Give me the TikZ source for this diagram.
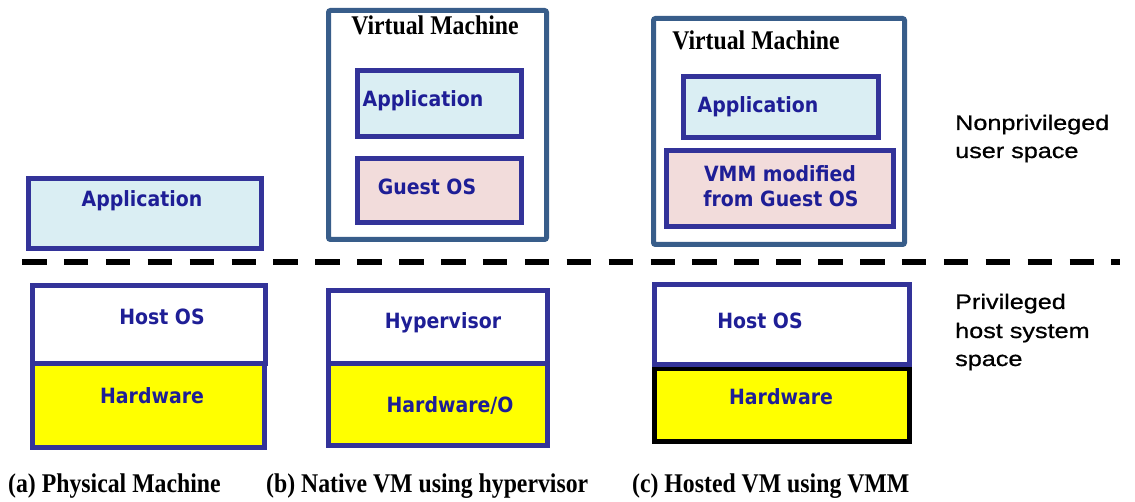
\documentclass[tikz,border=0pt]{standalone}
\usepackage{fontspec}
\newfontfamily\bfont{DejaVu Sans}[FakeStretch=0.9]
\newfontfamily\capfont{Liberation Serif}[FakeStretch=0.88]
\newfontfamily\lblfont{Liberation Sans}[FakeStretch=1.2,FakeBold=0.8]
\definecolor{inblue}{RGB}{51,51,153}
\definecolor{vmblue}{RGB}{56,93,138}
\definecolor{txtblue}{RGB}{30,30,150}
\definecolor{appfill}{RGB}{218,238,243}
\definecolor{guestfill}{RGB}{242,220,219}
\definecolor{hwfill}{RGB}{255,255,0}
\tikzset{
  ibox/.style={draw=inblue, line width=5pt, inner sep=0pt, outer sep=0pt, anchor=north west},
  kbox/.style={draw=black, line width=5pt, inner sep=0pt, outer sep=0pt, anchor=north west},
  vmbox/.style={draw=vmblue, line width=5pt, rounded corners=2pt, inner sep=0pt, outer sep=0pt, anchor=north west},
  btext/.style={text=txtblue, font=\bfont\bfseries\fontsize{21}{25}\selectfont, inner sep=0pt, anchor=base},
  ctext/.style={text=black, font=\capfont\bfseries\fontsize{27}{30}\selectfont, inner sep=0pt},
  rtext/.style={text=black, font=\lblfont\fontsize{21}{28}\selectfont, inner sep=0pt, anchor=base west},
}
\begin{document}
\begin{tikzpicture}[x=1pt,y=-1pt]
\useasboundingbox[fill=white] (0,0) rectangle (1135,502);
% (a) Physical machine
\node[ibox, fill=appfill, minimum width=233pt, minimum height=70pt] (appA) at (28.5,178.5) {};
\node[ibox, fill=hwfill, minimum width=232pt, minimum height=84pt] (hwA) at (32.5,363.5) {};
\node[ibox, fill=white, minimum width=233pt, minimum height=78pt] (hostA) at (32.5,285.5) {};
\node[btext] (tappA) at (142,206.5) {Application};
\node[btext] (thostA) at (162,325) {Host OS};
\node[btext] (thwA) at (152,403) {Hardware};
% (b) Native VM
\node[vmbox, fill=white, minimum width=218pt, minimum height=229pt] (vmB) at (328.5,10.5) {};
\node[ibox, fill=appfill, minimum width=164pt, minimum height=66pt] (appB) at (357.5,70.5) {};
\node[ibox, fill=guestfill, minimum width=164pt, minimum height=64pt] (guestB) at (357.5,158.5) {};
\node[ibox, fill=hwfill, minimum width=219pt, minimum height=81.5pt] (hwB) at (328.5,364) {};
\node[ibox, fill=white, minimum width=219pt, minimum height=73.5pt] (hypB) at (328.5,290.5) {};
\node[ctext, anchor=base] (tvmB) at (435,35) {Virtual Machine};
\node[btext] (tappB) at (423,107) {Application};
\node[btext] (tguestB) at (427,195) {Guest OS};
\node[btext] (thypB) at (443,329) {Hypervisor};
\node[btext] (thwB) at (450,413) {Hardware/O};
% (c) Hosted VM
\node[vmbox, fill=white, minimum width=251pt, minimum height=226pt] (vmC) at (653.5,18.5) {};
\node[ibox, fill=appfill, minimum width=195pt, minimum height=61pt] (appC) at (683.5,76.5) {};
\node[ibox, fill=guestfill, minimum width=227pt, minimum height=76pt] (vmmC) at (666.5,150.5) {};
\node[kbox, fill=hwfill, minimum width=255pt, minimum height=73pt] (hwC) at (654.5,368.5) {};
\node[ibox, fill=white, minimum width=255pt, minimum height=80pt] (hostC) at (654.5,284.5) {};
\node[ctext, anchor=base] (tvmC) at (756,50) {Virtual Machine};
\node[btext] (tappC) at (758,113) {Application};
\node[btext] (tvmm1) at (780,182) {VMM modified};
\node[btext] (tvmm2) at (781,207) {from Guest OS};
\node[btext] (thostC) at (760,329) {Host OS};
\node[btext] (thwC) at (781,405) {Hardware};
% divider
\coordinate (dashL) at (22,262.5);
\coordinate (dashR) at (1120,262.5);
\draw[line width=6pt, dash pattern=on 24.5pt off 17.4pt] (dashL) -- (dashR);
% right labels
\node[rtext] (np1) at (955,130) {Nonprivileged};
\node[rtext] (np2) at (955,158) {user space};
\node[rtext] (pr1) at (955,309) {Privileged};
\node[rtext] (pr2) at (955,338) {host system};
\node[rtext] (pr3) at (955,366) {space};
% captions
\node[ctext, anchor=base west] (capA) at (8,492.5) {(a) Physical Machine};
\node[ctext, anchor=base west] (capB) at (266,492.5) {(b) Native VM using hypervisor};
\node[ctext, anchor=base west] (capC) at (632,492.5) {(c) Hosted VM using VMM};
\end{tikzpicture}
\end{document}
